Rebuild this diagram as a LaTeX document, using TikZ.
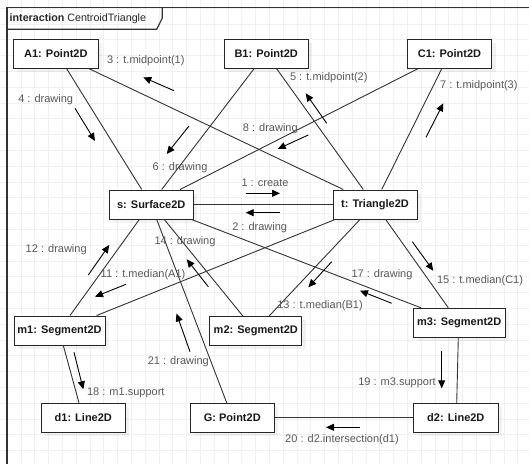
\documentclass[tikz,border=0pt]{standalone}
\usepackage{fontspec}
\setmainfont{Liberation Sans}
\usetikzlibrary{arrows.meta,shadows}
\begin{document}
\begin{tikzpicture}[x=1pt,y=-1pt,
  obj/.style={draw=black!85, line width=1pt, fill=white, minimum height=29pt,
    inner sep=0pt, font=\bfseries\fontsize{11}{13}\selectfont, text=black!90,
    drop shadow={opacity=0.1, shadow xshift=4pt, shadow yshift=-4pt}},
  link/.style={draw=black!80, line width=0.9pt},
  msg/.style={draw=black, line width=0.9pt, -{Triangle[length=8pt,width=7pt]}},
  lbl/.style={text=black!65, font=\fontsize{11}{13}\selectfont, inner sep=0pt},
  gridline/.style={draw=black!6, line width=0.6pt},
  frame/.style={draw=black!80, line width=1.2pt},
]
\useasboundingbox (0,0) rectangle (529,464);
\fill[white] (0,0) rectangle (529,464);

% background grid
\foreach \i in {0,...,38} \draw[gridline] ({7+13.8*\i},0) -- ({7+13.8*\i},464);
\foreach \j in {0,...,29} \draw[gridline] (0,{8+15.8*\j}) -- (529,{8+15.8*\j});

% interaction frame
\draw[frame] (7,464) -- (7,7.5) -- (529,7.5);
\draw[frame] (7,29.3) -- (156.7,29.3) -- (162.3,18) -- (162.3,7.5);
\node[anchor=west, inner sep=0pt, text=black!85, font=\fontsize{10.7}{13}\selectfont] (title) at (9.5,19)
  {\textbf{interaction} CentroidTriangle};

% objects
\node[obj, minimum width=85pt] (A1) at (55.8,53.8) {A1: Point2D};
\node[obj, minimum width=84pt] (B1) at (266.2,53.8) {B1: Point2D};
\node[obj, minimum width=84pt] (C1) at (449.5,53.8) {C1: Point2D};
\node[obj, minimum width=84pt] (s) at (151.2,204.5) {s: Surface2D};
\node[obj, minimum width=84pt] (t) at (375,204.5) {t: Triangle2D};
\node[obj, minimum width=91pt] (m1) at (59.5,330.5) {m1: Segment2D};
\node[obj, minimum width=92pt] (m2) at (255.8,330.8) {m2: Segment2D};
\node[obj, minimum width=92pt] (m3) at (459.2,322.8) {m3: Segment2D};
\node[obj, minimum width=84pt] (d1) at (83.3,417.8) {d1: Line2D};
\node[obj, minimum width=84pt] (G) at (232.3,417.8) {G: Point2D};
\node[obj, minimum width=85pt] (d2) at (455.8,417.8) {d2: Line2D};

% links
\draw[link] ([xshift=10.9pt]A1.south) -- ([xshift=-9.5pt]s.north);
\draw[link] ([xshift=33.5pt]A1.south) -- ([xshift=-31.7pt]t.north);
\draw[link] ([xshift=-12.2pt]B1.south) -- ([xshift=10.5pt]s.north);
\draw[link] ([xshift=10.5pt]B1.south) -- ([xshift=-11.7pt]t.north);
\draw[link] ([xshift=-31.8pt]C1.south) -- ([xshift=28.8pt]s.north);
\draw[link] ([xshift=-7.8pt]C1.south) -- ([xshift=6.7pt]t.north);
\draw[link] (s.east) -- (t.west);
\draw[link] ([xshift=-11.9pt]s.south) -- ([xshift=10.5pt]m1.north);
\draw[link] ([xshift=-40pt]t.south) -- ([xshift=37.2pt]m1.north);
\draw[link] ([xshift=5.5pt]s.south) -- ([xshift=-5.6pt]G.north);
\draw[link] ([xshift=13.1pt]s.south) -- ([xshift=-13.1pt]m2.north);
\draw[link] ([xshift=40.5pt]s.south) -- ([xshift=-38.2pt]m3.north);
\draw[link] ([xshift=-15pt]t.south) -- ([xshift=13.5pt]m2.north);
\draw[link] ([xshift=10.7pt]t.south) -- ([xshift=-10.9pt]m3.north);
\draw[link] ([xshift=3.8pt]m1.south) -- ([xshift=-4.3pt]d1.north);
\draw[link] ([xshift=-0.9pt]m3.south) -- ([xshift=0.9pt]d2.north);
\draw[link] (G.east) -- (d2.west);

% messages
\draw[msg] (245.7,193.3) -- (280,193.3);
\node[lbl] (l1) at (265,182.7) {1 : create};
\draw[msg] (280,212.7) -- (245.7,212.7);
\node[lbl] (l2) at (259.7,227.7) {2 : drawing};
\draw[msg] (174,90.7) -- (143.3,77.3);
\node[lbl] (l3) at (145.8,61) {3 : t.midpoint(1)};
\draw[msg] (75,108.3) -- (95,141);
\node[lbl] (l4) at (45.7,99.3) {4 : drawing};
\draw[msg] (326.7,123.3) -- (305.7,93.3);
\node[lbl] (l5) at (328.8,77.7) {5 : t.midpoint(2)};
\draw[msg] (189,126) -- (166.7,154);
\node[lbl] (l6) at (180,167.3) {6 : drawing};
\draw[msg] (426,137.3) -- (443.3,103.3);
\node[lbl] (l7) at (478.8,85.7) {7 : t.midpoint(3)};
\draw[msg] (308.3,135) -- (277.7,149);
\node[lbl] (l8) at (270.3,128.3) {8 : drawing};
\draw[msg] (126,284.3) -- (95,296.7);
\node[lbl] (l11) at (143,275) {11 : t.median(A1)};
\draw[msg] (88.3,275) -- (109.3,245);
\node[lbl] (l12) at (56.2,250) {12 : drawing};
\draw[msg] (331.7,261.7) -- (308.3,287.3);
\node[lbl] (l13) at (320,305.7) {13 : t.median(B1)};
\draw[msg] (208.3,286.7) -- (186.7,259.3);
\node[lbl] (l14) at (185,241.7) {14 : drawing};
\draw[msg] (412.3,241.7) -- (433.3,270.7);
\node[lbl] (l15) at (480,280.7) {15 : t.median(C1)};
\draw[msg] (391.7,303.3) -- (360,290.7);
\node[lbl] (l17) at (382,275) {17 : drawing};
\draw[msg] (74,352.3) -- (83.3,389.3);
\node[lbl] (l18) at (125.8,392.3) {18 : m1.support};
\draw[msg] (441.7,350.7) -- (441.7,388.3);
\node[lbl] (l19) at (397,382.7) {19 : m3.support};
\draw[msg] (360,427.3) -- (326,427.3);
\node[lbl] (l20) at (342,439.3) {20 : d2.intersection(d1)};
\draw[msg] (190,351.7) -- (176.5,313.5);
\node[lbl] (l21) at (178.3,361.7) {21 : drawing};
\end{tikzpicture}
\end{document}
